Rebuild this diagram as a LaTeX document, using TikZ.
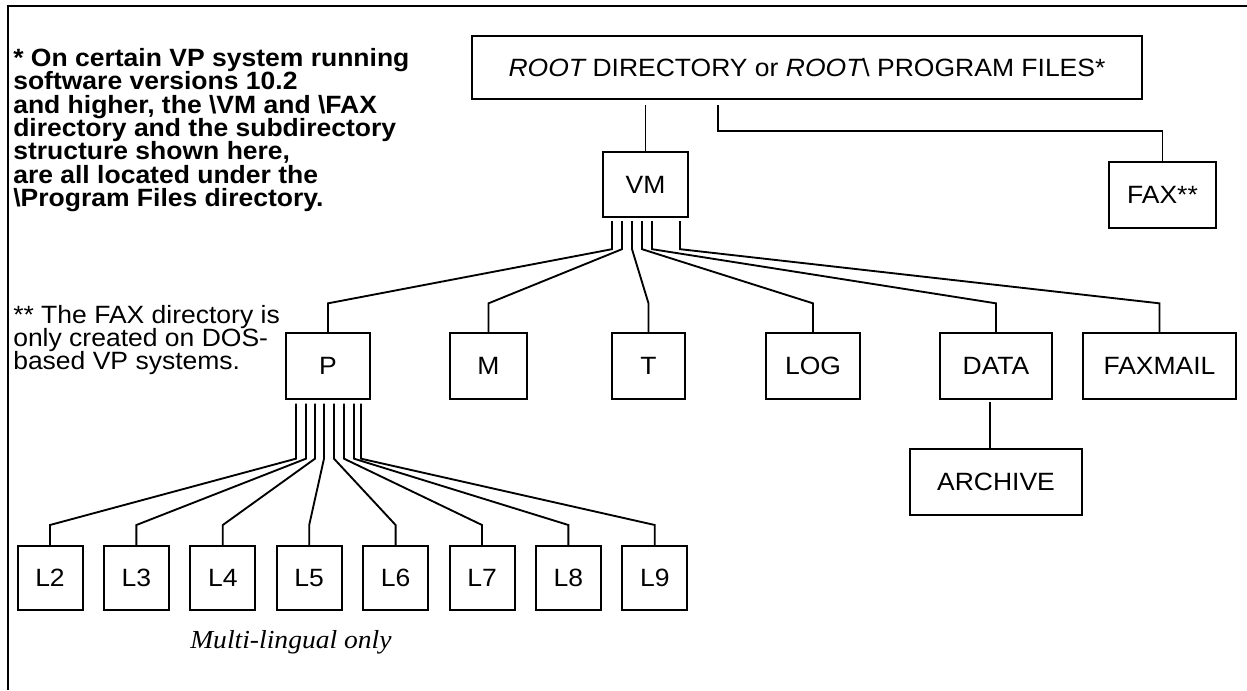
\documentclass[tikz,border=0pt]{standalone}
\usepackage{fontspec}
\setmainfont{Liberation Sans}[FakeStretch=1.06]
\newfontfamily\serifit{Liberation Serif}[FakeStretch=1.06]
\begin{document}
\begin{tikzpicture}[x=0.75pt,y=-0.75pt,font=\fontsize{18.75}{21}\selectfont,
  dirbox/.style={draw,line width=1.5pt,inner sep=0pt,minimum height=49pt},
  conn/.style={line width=1.4pt},
  notetext/.style={anchor=base west,inner sep=0pt}]
\useasboundingbox (0,0) rectangle (1247,690);
\draw[line width=2pt] (8,690)--(8,6)--(1247,6);
% footnotes on the left
\foreach \t [count=\i] in {{* On certain VP system running},{software versions 10.2},{and higher, the \textbackslash VM and \textbackslash FAX},{directory and the subdirectory},{structure shown here,},{are all located under the},{\textbackslash Program Files directory.}}{\node[notetext] (note\i) at (13,{43.33+23.33*\i}) {\bfseries\t};}
\foreach \t [count=\i] in {{** The FAX directory is},{only created on DOS-},{based VP systems.}}{\node[notetext] (fn\i) at (13,{299.7+23.33*\i}) {\t};}
% directory boxes
\node[dirbox,minimum width=502.5pt,minimum height=47.25pt] (root) at (807,67.5) {{\itshape ROOT} DIRECTORY or {\itshape ROOT}\textbackslash{} PROGRAM FILES*};
\node[dirbox,minimum width=63.75pt] (vm) at (645.5,184.5) {VM};
\node[dirbox,minimum width=80.25pt] (fax) at (1162.5,195) {FAX**};
\foreach \n/\x/\w/\s in {p/328/63/P,m/488.5/57.75/M,t/648.5/54.75/T,log/813/70.5/LOG,data/996/84/DATA,faxmail/1159.5/114.75/FAXMAIL}{\node[dirbox,minimum width=\w pt] (\n) at (\x,366) {\s};}
\node[dirbox,minimum width=129pt] (archive) at (996,482) {ARCHIVE};
\foreach \n in {2,...,9}{\node[dirbox,minimum width=48.75pt,minimum height=48pt] (l\n) at ({50+86.4*(\n-2)},578) {L\n};}
\node[notetext,font=\fontsize{19.5}{22}\serifit\itshape] (multi) at (190,648) {Multi-lingual only};
% connectors
\draw[conn,shorten <=3.75pt] (root.south -| vm.north) -- (vm.north);
\draw[conn,shorten <=3.75pt] ([shift={(-89,0)}]root.south) |- ([shift={(0,-30)}]fax.north) -- (fax.north);
\foreach \c/\dx in {p/-33.5,m/-23.5,t/-13.5,log/-3.5,data/6.5,faxmail/34.5}{\draw[conn] ([shift={(\dx,3)}]vm.south) -- ++(0,28) -- ([shift={(0,-29)}]\c.north) -- (\c.north);}
\foreach \n/\dx in {2/-32,3/-22,4/-13,5/-4,6/6,7/16,8/26,9/33}{\draw[conn] ([shift={(\dx,4)}]p.south) -- ++(0,55) -- ([shift={(0,-20)}]l\n.north) -- (l\n.north);}
\draw[conn,shorten <=1.5pt] ([shift={(-6,0)}]data.south) -- ([shift={(-6,0)}]archive.north);
\end{tikzpicture}
\end{document}
